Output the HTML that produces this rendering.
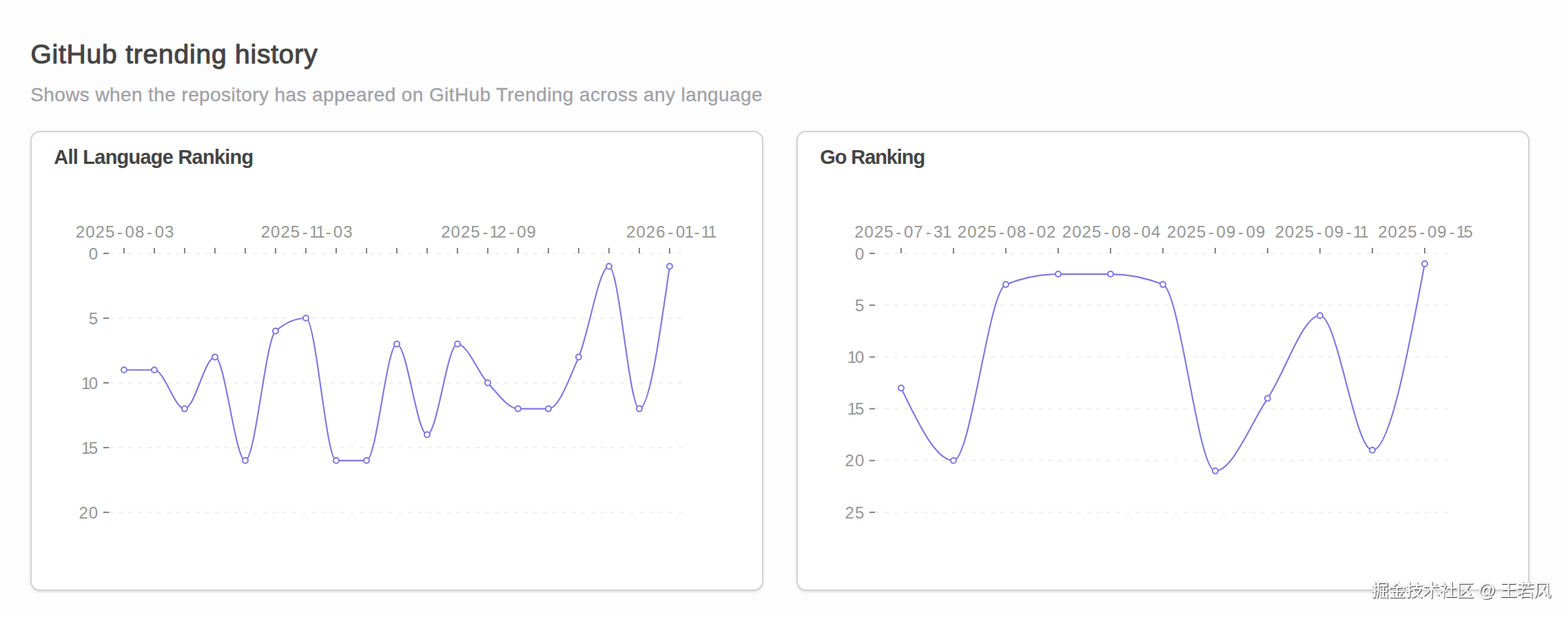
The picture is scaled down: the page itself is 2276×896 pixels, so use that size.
<!DOCTYPE html>
<html lang="en">
<head>
<meta charset="utf-8">
<title>GitHub trending history</title>
<style>
html,body{margin:0;padding:0}
html{width:2276px;height:896px;overflow:hidden}
body{width:2276px;height:896px;background:#fdfdfd;position:relative;overflow:hidden;font-family:"Liberation Sans",sans-serif}
.title{position:absolute;left:44.4px;top:54.6px;font-size:39px;line-height:48px;color:#444;letter-spacing:0.79px;white-space:nowrap;-webkit-text-stroke:1.05px #444}
.sub{position:absolute;left:44.2px;top:121.2px;font-size:28px;line-height:34px;color:#a1a1a6;letter-spacing:0.40px;white-space:nowrap;-webkit-text-stroke:0.3px #a1a1a6}
.card{position:absolute;top:190px;width:1064px;height:668px;box-sizing:border-box;background:#fff;border:2px solid #d3d3d3;border-radius:14px;box-shadow:0 2px 5px rgba(0,0,0,.09),0 2px 3px -2px rgba(0,0,0,.12)}
.ct{position:absolute;left:32.3px;top:17.6px;font-size:29px;line-height:36px;font-weight:700;color:#444;letter-spacing:-0.77px;white-space:nowrap}
svg.ch{position:absolute;left:0;top:0}
.lb{font-family:"Liberation Sans",sans-serif;font-size:24px;fill:#969696}
.wmt{font-family:"Liberation Sans","Noto Sans CJK SC",sans-serif;font-size:25.4px}
</style>
</head>
<body>
<div class="title">GitHub trending history</div>
<div class="sub">Shows when the repository has appeared on GitHub Trending across any language</div>
<div class="card" style="left:44px"><div class="ct">All Language Ranking</div></div>
<div class="card" style="left:1156px"><div class="ct" style="letter-spacing:-1.1px">Go Ranking</div></div>
<svg class="ch" width="2276" height="896" viewBox="0 0 2276 896">
<line x1="158" y1="368.0" x2="994" y2="368.0" stroke="#f0f0f0" stroke-width="2" stroke-dasharray="6 8"/>
<line x1="158" y1="462.0" x2="994" y2="462.0" stroke="#f0f0f0" stroke-width="2" stroke-dasharray="6 8"/>
<line x1="158" y1="556.0" x2="994" y2="556.0" stroke="#f0f0f0" stroke-width="2" stroke-dasharray="6 8"/>
<line x1="158" y1="650.0" x2="994" y2="650.0" stroke="#f0f0f0" stroke-width="2" stroke-dasharray="6 8"/>
<line x1="158" y1="744.0" x2="994" y2="744.0" stroke="#f0f0f0" stroke-width="2" stroke-dasharray="6 8"/>
<line x1="150" y1="368.0" x2="158" y2="368.0" stroke="#848484" stroke-width="2"/>
<text class="lb" x="128.85" y="376.6">0</text>
<line x1="150" y1="462.0" x2="158" y2="462.0" stroke="#848484" stroke-width="2"/>
<text class="lb" x="128.85" y="470.6">5</text>
<line x1="150" y1="556.0" x2="158" y2="556.0" stroke="#848484" stroke-width="2"/>
<text class="lb" x="117.92 128.85" y="564.6">10</text>
<line x1="150" y1="650.0" x2="158" y2="650.0" stroke="#848484" stroke-width="2"/>
<text class="lb" x="117.92 128.85" y="658.6">15</text>
<line x1="150" y1="744.0" x2="158" y2="744.0" stroke="#848484" stroke-width="2"/>
<text class="lb" x="114.50 128.85" y="752.6">20</text>
<line x1="180" y1="360" x2="180" y2="368" stroke="#848484" stroke-width="2"/>
<line x1="224" y1="360" x2="224" y2="368" stroke="#848484" stroke-width="2"/>
<line x1="268" y1="360" x2="268" y2="368" stroke="#848484" stroke-width="2"/>
<line x1="312" y1="360" x2="312" y2="368" stroke="#848484" stroke-width="2"/>
<line x1="356" y1="360" x2="356" y2="368" stroke="#848484" stroke-width="2"/>
<line x1="400" y1="360" x2="400" y2="368" stroke="#848484" stroke-width="2"/>
<line x1="444" y1="360" x2="444" y2="368" stroke="#848484" stroke-width="2"/>
<line x1="488" y1="360" x2="488" y2="368" stroke="#848484" stroke-width="2"/>
<line x1="532" y1="360" x2="532" y2="368" stroke="#848484" stroke-width="2"/>
<line x1="576" y1="360" x2="576" y2="368" stroke="#848484" stroke-width="2"/>
<line x1="620" y1="360" x2="620" y2="368" stroke="#848484" stroke-width="2"/>
<line x1="664" y1="360" x2="664" y2="368" stroke="#848484" stroke-width="2"/>
<line x1="708" y1="360" x2="708" y2="368" stroke="#848484" stroke-width="2"/>
<line x1="752" y1="360" x2="752" y2="368" stroke="#848484" stroke-width="2"/>
<line x1="796" y1="360" x2="796" y2="368" stroke="#848484" stroke-width="2"/>
<line x1="840" y1="360" x2="840" y2="368" stroke="#848484" stroke-width="2"/>
<line x1="884" y1="360" x2="884" y2="368" stroke="#848484" stroke-width="2"/>
<line x1="928" y1="360" x2="928" y2="368" stroke="#848484" stroke-width="2"/>
<line x1="972" y1="360" x2="972" y2="368" stroke="#848484" stroke-width="2"/>
<text class="lb" x="109.85 124.20 138.55 152.90 169.95 181.60 195.95 213.00 224.65 239.00" y="345.0">2025-08-03</text>
<text class="lb" x="378.70 393.05 407.40 421.75 438.80 449.03 458.53 472.15 483.80 498.15" y="345.0">2025-11-03</text>
<text class="lb" x="640.27 654.62 668.98 683.33 700.38 710.60 721.53 738.58 750.23 764.58" y="345.0">2025-12-09</text>
<text class="lb" x="909.12 923.48 937.83 952.18 969.23 980.88 993.80 1007.43 1017.65 1027.15" y="345.0">2026-01-11</text>
<path d="M180.00,537.20C194.67,537.20 209.33,537.20 224.00,537.20C238.67,537.20 253.33,593.60 268.00,593.60C282.67,593.60 297.33,518.40 312.00,518.40C326.67,518.40 341.33,668.80 356.00,668.80C370.67,668.80 385.33,493.33 400.00,480.80C414.67,468.27 429.33,462.00 444.00,462.00C458.67,462.00 473.33,668.80 488.00,668.80C502.67,668.80 517.33,668.80 532.00,668.80C546.67,668.80 561.33,499.60 576.00,499.60C590.67,499.60 605.33,631.20 620.00,631.20C634.67,631.20 649.33,499.60 664.00,499.60C678.67,499.60 693.33,540.33 708.00,556.00C722.67,571.67 737.33,593.60 752.00,593.60C766.67,593.60 781.33,593.60 796.00,593.60C810.67,593.60 825.33,552.87 840.00,518.40C854.67,483.93 869.33,386.80 884.00,386.80C898.67,386.80 913.33,593.60 928.00,593.60C942.67,593.60 957.33,490.20 972.00,386.80" fill="none" stroke="#7f79de" stroke-width="2.15" stroke-linejoin="round"/>
<circle cx="180" cy="537.20" r="4" fill="#fff" stroke="#7f79de" stroke-width="2"/>
<circle cx="224" cy="537.20" r="4" fill="#fff" stroke="#7f79de" stroke-width="2"/>
<circle cx="268" cy="593.60" r="4" fill="#fff" stroke="#7f79de" stroke-width="2"/>
<circle cx="312" cy="518.40" r="4" fill="#fff" stroke="#7f79de" stroke-width="2"/>
<circle cx="356" cy="668.80" r="4" fill="#fff" stroke="#7f79de" stroke-width="2"/>
<circle cx="400" cy="480.80" r="4" fill="#fff" stroke="#7f79de" stroke-width="2"/>
<circle cx="444" cy="462.00" r="4" fill="#fff" stroke="#7f79de" stroke-width="2"/>
<circle cx="488" cy="668.80" r="4" fill="#fff" stroke="#7f79de" stroke-width="2"/>
<circle cx="532" cy="668.80" r="4" fill="#fff" stroke="#7f79de" stroke-width="2"/>
<circle cx="576" cy="499.60" r="4" fill="#fff" stroke="#7f79de" stroke-width="2"/>
<circle cx="620" cy="631.20" r="4" fill="#fff" stroke="#7f79de" stroke-width="2"/>
<circle cx="664" cy="499.60" r="4" fill="#fff" stroke="#7f79de" stroke-width="2"/>
<circle cx="708" cy="556.00" r="4" fill="#fff" stroke="#7f79de" stroke-width="2"/>
<circle cx="752" cy="593.60" r="4" fill="#fff" stroke="#7f79de" stroke-width="2"/>
<circle cx="796" cy="593.60" r="4" fill="#fff" stroke="#7f79de" stroke-width="2"/>
<circle cx="840" cy="518.40" r="4" fill="#fff" stroke="#7f79de" stroke-width="2"/>
<circle cx="884" cy="386.80" r="4" fill="#fff" stroke="#7f79de" stroke-width="2"/>
<circle cx="928" cy="593.60" r="4" fill="#fff" stroke="#7f79de" stroke-width="2"/>
<circle cx="972" cy="386.80" r="4" fill="#fff" stroke="#7f79de" stroke-width="2"/>
<line x1="1270" y1="368.0" x2="2106" y2="368.0" stroke="#f0f0f0" stroke-width="2" stroke-dasharray="6 8"/>
<line x1="1270" y1="443.2" x2="2106" y2="443.2" stroke="#f0f0f0" stroke-width="2" stroke-dasharray="6 8"/>
<line x1="1270" y1="518.4" x2="2106" y2="518.4" stroke="#f0f0f0" stroke-width="2" stroke-dasharray="6 8"/>
<line x1="1270" y1="593.6" x2="2106" y2="593.6" stroke="#f0f0f0" stroke-width="2" stroke-dasharray="6 8"/>
<line x1="1270" y1="668.8" x2="2106" y2="668.8" stroke="#f0f0f0" stroke-width="2" stroke-dasharray="6 8"/>
<line x1="1270" y1="744.0" x2="2106" y2="744.0" stroke="#f0f0f0" stroke-width="2" stroke-dasharray="6 8"/>
<line x1="1262" y1="368.0" x2="1270" y2="368.0" stroke="#848484" stroke-width="2"/>
<text class="lb" x="1240.95" y="376.6">0</text>
<line x1="1262" y1="443.2" x2="1270" y2="443.2" stroke="#848484" stroke-width="2"/>
<text class="lb" x="1240.95" y="451.8">5</text>
<line x1="1262" y1="518.4" x2="1270" y2="518.4" stroke="#848484" stroke-width="2"/>
<text class="lb" x="1230.03 1240.95" y="527.0">10</text>
<line x1="1262" y1="593.6" x2="1270" y2="593.6" stroke="#848484" stroke-width="2"/>
<text class="lb" x="1230.03 1240.95" y="602.2">15</text>
<line x1="1262" y1="668.8" x2="1270" y2="668.8" stroke="#848484" stroke-width="2"/>
<text class="lb" x="1226.60 1240.95" y="677.4">20</text>
<line x1="1262" y1="744.0" x2="1270" y2="744.0" stroke="#848484" stroke-width="2"/>
<text class="lb" x="1226.60 1240.95" y="752.6">25</text>
<line x1="1308" y1="360" x2="1308" y2="368" stroke="#848484" stroke-width="2"/>
<line x1="1384" y1="360" x2="1384" y2="368" stroke="#848484" stroke-width="2"/>
<line x1="1460" y1="360" x2="1460" y2="368" stroke="#848484" stroke-width="2"/>
<line x1="1536" y1="360" x2="1536" y2="368" stroke="#848484" stroke-width="2"/>
<line x1="1612" y1="360" x2="1612" y2="368" stroke="#848484" stroke-width="2"/>
<line x1="1688" y1="360" x2="1688" y2="368" stroke="#848484" stroke-width="2"/>
<line x1="1764" y1="360" x2="1764" y2="368" stroke="#848484" stroke-width="2"/>
<line x1="1840" y1="360" x2="1840" y2="368" stroke="#848484" stroke-width="2"/>
<line x1="1916" y1="360" x2="1916" y2="368" stroke="#848484" stroke-width="2"/>
<line x1="1992" y1="360" x2="1992" y2="368" stroke="#848484" stroke-width="2"/>
<line x1="2068" y1="360" x2="2068" y2="368" stroke="#848484" stroke-width="2"/>
<text class="lb" x="1240.27 1254.62 1268.97 1283.32 1300.37 1312.02 1326.37 1343.42 1355.07 1368.00" y="345.0">2025-07-31</text>
<text class="lb" x="1389.85 1404.20 1418.55 1432.90 1449.95 1461.60 1475.95 1493.00 1504.65 1519.00" y="345.0">2025-08-02</text>
<text class="lb" x="1541.85 1556.20 1570.55 1584.90 1601.95 1613.60 1627.95 1645.00 1656.65 1671.00" y="345.0">2025-08-04</text>
<text class="lb" x="1693.85 1708.20 1722.55 1736.90 1753.95 1765.60 1779.95 1797.00 1808.65 1823.00" y="345.0">2025-09-09</text>
<text class="lb" x="1850.70 1865.05 1879.40 1893.75 1910.80 1922.45 1936.80 1953.85 1964.07 1973.57" y="345.0">2025-09-11</text>
<text class="lb" x="2000.27 2014.62 2028.97 2043.32 2060.37 2072.02 2086.37 2103.42 2113.65 2124.57" y="345.0">2025-09-15</text>
<path d="M1308.00,563.52C1333.33,616.16 1358.67,668.80 1384.00,668.80C1409.33,668.80 1434.67,423.15 1460.00,413.12C1485.33,403.09 1510.67,398.08 1536.00,398.08C1561.33,398.08 1586.67,398.08 1612.00,398.08C1637.33,398.08 1662.67,403.09 1688.00,413.12C1713.33,423.15 1738.67,683.84 1764.00,683.84C1789.33,683.84 1814.67,616.16 1840.00,578.56C1865.33,540.96 1890.67,458.24 1916.00,458.24C1941.33,458.24 1966.67,653.76 1992.00,653.76C2017.33,653.76 2042.67,518.40 2068.00,383.04" fill="none" stroke="#7f79de" stroke-width="2.15" stroke-linejoin="round"/>
<circle cx="1308" cy="563.52" r="4" fill="#fff" stroke="#7f79de" stroke-width="2"/>
<circle cx="1384" cy="668.80" r="4" fill="#fff" stroke="#7f79de" stroke-width="2"/>
<circle cx="1460" cy="413.12" r="4" fill="#fff" stroke="#7f79de" stroke-width="2"/>
<circle cx="1536" cy="398.08" r="4" fill="#fff" stroke="#7f79de" stroke-width="2"/>
<circle cx="1612" cy="398.08" r="4" fill="#fff" stroke="#7f79de" stroke-width="2"/>
<circle cx="1688" cy="413.12" r="4" fill="#fff" stroke="#7f79de" stroke-width="2"/>
<circle cx="1764" cy="683.84" r="4" fill="#fff" stroke="#7f79de" stroke-width="2"/>
<circle cx="1840" cy="578.56" r="4" fill="#fff" stroke="#7f79de" stroke-width="2"/>
<circle cx="1916" cy="458.24" r="4" fill="#fff" stroke="#7f79de" stroke-width="2"/>
<circle cx="1992" cy="653.76" r="4" fill="#fff" stroke="#7f79de" stroke-width="2"/>
<circle cx="2068" cy="383.04" r="4" fill="#fff" stroke="#7f79de" stroke-width="2"/>
</svg>
<svg class="wm" role="img" aria-label="掘金技术社区 @ 王若风" width="316" height="66" viewBox="1960 830 316 66" style="position:absolute;left:1960px;top:830px;overflow:hidden">
<defs><filter id="ws" x="-5%" y="-20%" width="110%" height="150%">
<feDropShadow dx="1.15" dy="1.15" stdDeviation="0.35" flood-color="#000" flood-opacity="0.72" result="a"/>
</filter>
<filter id="wg" x="-5%" y="-20%" width="110%" height="150%"><feGaussianBlur stdDeviation="0.9"/></filter></defs>
<text class="wmt" x="1990.5" y="866" textLength="261" lengthAdjust="spacing" fill="#000" opacity="0.22" filter="url(#wg)">掘金技术社区 @ 王若风</text>
<text class="wmt" x="1990.5" y="866" textLength="261" lengthAdjust="spacing" fill="#fff" filter="url(#ws)">掘金技术社区 @ 王若风</text>
</svg>
</body>
</html>
